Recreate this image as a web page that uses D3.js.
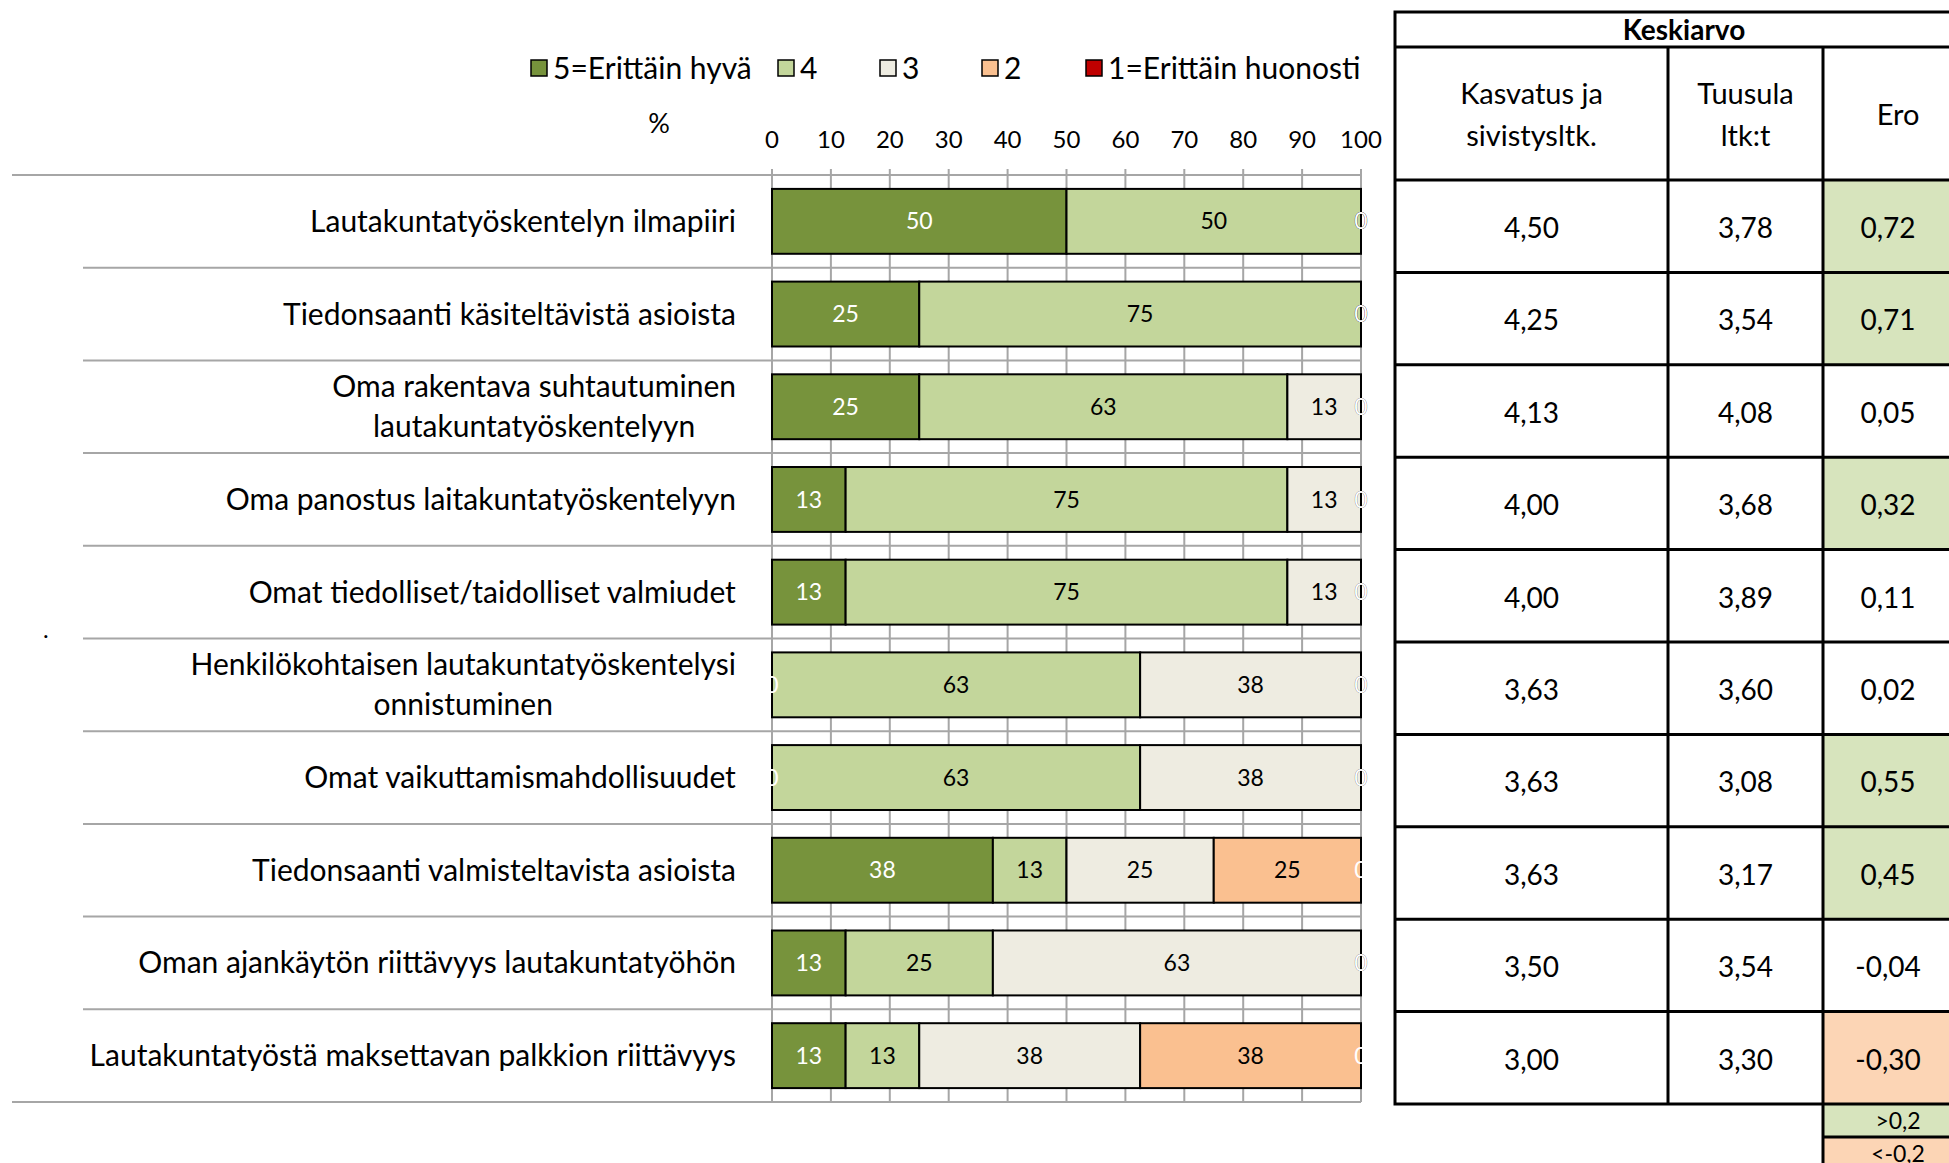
<!DOCTYPE html>
<html>
<head>
<meta charset="utf-8">
<script src="https://cdn.jsdelivr.net/npm/d3@7"></script>
<style>
body { margin: 0; background: #fff; }
svg { display: block; font-family: Lato, "Open Sans", sans-serif; }
</style>
</head>
<body>
<svg></svg>
<script>
// rows of the chart (top to bottom), "\n" = line break in the label
const categories = [
    "Lautakuntatyöskentelyn ilmapiiri",
    "Tiedonsaanti käsiteltävistä asioista",
    "Oma rakentava suhtautuminen\nlautakuntatyöskentelyyn",
    "Oma panostus laitakuntatyöskentelyyn",
    "Omat tiedolliset/taidolliset valmiudet",
    "Henkilökohtaisen lautakuntatyöskentelysi\nonnistuminen",
    "Omat vaikuttamismahdollisuudet",
    "Tiedonsaanti valmisteltavista asioista",
    "Oman ajankäytön riittävyys lautakuntatyöhön",
    "Lautakuntatyöstä maksettavan palkkion riittävyys"
];

// percentage shares per answer
const seriesNames = ["5=Erittäin hyvä", "4", "3", "2", "1=Erittäin huonosti"];
const s5 = [50, 25, 25, 12.5, 12.5, 0, 0, 37.5, 12.5, 12.5];
const s4 = [50, 75, 62.5, 75, 75, 62.5, 62.5, 12.5, 25, 12.5];
const s3 = [0, 0, 12.5, 12.5, 12.5, 37.5, 37.5, 25, 62.5, 37.5];
const s2 = [0, 0, 0, 0, 0, 0, 0, 25, 0, 37.5];
const s1 = [0, 0, 0, 0, 0, 0, 0, 0, 0, 0];
const seriesColors = ["#77933C", "#C3D69B", "#EEECE1", "#FAC090", "#C00000"];
const labelColors = ["#ffffff", "#000000", "#000000", "#000000", "#ffffff"];

// table of means
const tableTitle = "Keskiarvo";
const tableHeaders = ["Kasvatus ja\nsivistysltk.", "Tuusula\nltk:t", "Ero"];
const kasvatus = [4.50, 4.25, 4.13, 4.00, 4.00, 3.63, 3.63, 3.63, 3.50, 3.00];
const tuusula = [3.78, 3.54, 4.08, 3.68, 3.89, 3.60, 3.08, 3.17, 3.54, 3.30];
const ero = [0.72, 0.71, 0.05, 0.32, 0.11, 0.02, 0.55, 0.45, -0.04, -0.30];
const eroLegend = [">0,2", "<-0,2"];
const eroLimit = 0.2;

const width = 1949, height = 1163;
const tickFont = 24, textFont = 30;

var svg = d3.select("svg")
    .attr("width", width)
    .attr("height", height);

const x = d3.scaleLinear().domain([0, 100]).range([772, 1361]);
const y = d3.scaleBand().domain(categories).range([175, 1102])
    .paddingInner(0.3).paddingOuter(0.15);

const rows = categories.map((c, i) => ({cat: c, 0: s5[i], 1: s4[i], 2: s3[i], 3: s2[i], 4: s1[i]}));
const stacked = d3.stack().keys([0, 1, 2, 3, 4])(rows);

const gridColor = "#a6a6a6";
const step = y.step();
const y0 = y.range()[0];

// horizontal row separators (also gridlines)
const grid = svg.append("g");
d3.range(categories.length + 1).forEach(i => {
    let first = i == 0 || i == categories.length;
    grid.append("line")
        .attr("x1", first ? 12 : 83)
        .attr("x2", x(100))
        .attr("y1", y0 + i * step)
        .attr("y2", y0 + i * step)
        .attr("stroke", gridColor)
        .attr("stroke-width", 2);
});

// vertical gridlines + ticks
grid.selectAll(".vgrid")
    .data(x.ticks(10))
    .enter().append("line")
    .attr("x1", d => x(d))
    .attr("x2", d => x(d))
    .attr("y1", y0 - 6)
    .attr("y2", y.range()[1])
    .attr("stroke", gridColor)
    .attr("stroke-width", 2);

svg.append("g").selectAll("text")
    .data(x.ticks(10))
    .enter().append("text")
    .attr("x", d => x(d))
    .attr("y", 140)
    .attr("dy", "0.35em")
    .attr("text-anchor", "middle")
    .attr("font-size", tickFont)
    .text(d => d);

svg.append("text")
    .attr("x", 659)
    .attr("y", 124)
    .attr("dy", "0.35em")
    .attr("text-anchor", "middle")
    .attr("font-size", 27)
    .text("%");

// bars
const bars = svg.append("g");
stacked.forEach((layer, k) => {
    bars.append("g").selectAll("rect")
        .data(layer)
        .enter().append("rect")
        .attr("x", d => x(d[0]))
        .attr("y", d => y(d.data.cat))
        .attr("width", d => x(d[1]) - x(d[0]))
        .attr("height", y.bandwidth())
        .attr("fill", seriesColors[k])
        .attr("stroke", d => d[1] > d[0] ? "#000" : "none")
        .attr("stroke-width", 2);
});

// labels, drawn in series order so later ones sit on top
stacked.forEach((layer, k) => {
    bars.append("g").selectAll("text")
        .data(layer)
        .enter().append("text")
        .attr("x", d => x((d[0] + d[1]) / 2))
        .attr("y", d => y(d.data.cat) + y.bandwidth() / 2)
        .attr("dy", "0.35em")
        .attr("text-anchor", "middle")
        .attr("font-size", tickFont - 1)
        .attr("fill", labelColors[k])
        .text(d => Math.round(d[1] - d[0]));
});

// category labels, multi-line ones centred on each other
const labelRight = 736;
categories.forEach(c => {
    let lines = c.split("\n");
    let t = svg.append("text")
        .attr("font-size", textFont)
        .attr("text-anchor", "middle");
    let cy = y(c) + y.bandwidth() / 2;
    lines.forEach((l, j) => {
        t.append("tspan")
            .attr("x", 0)
            .attr("y", cy + (j - (lines.length - 1) / 2) * 40)
            .attr("dy", "0.35em")
            .text(l);
    });
    let w = t.node().getBBox().width;
    t.selectAll("tspan").attr("x", labelRight - w / 2);
});

svg.append("text")
    .attr("x", 43).attr("y", 638)
    .attr("font-size", tickFont)
    .text(".");

// legend
const legendX = [531, 778, 880, 982, 1086];
const legend = svg.append("g");
seriesNames.forEach((n, k) => {
    legend.append("rect")
        .attr("x", legendX[k])
        .attr("y", 60)
        .attr("width", 16)
        .attr("height", 16)
        .attr("fill", seriesColors[k])
        .attr("stroke", "#000")
        .attr("stroke-width", 1.5);
    legend.append("text")
        .attr("x", legendX[k] + 22)
        .attr("y", 68)
        .attr("dy", "0.35em")
        .attr("font-size", textFont)
        .text(n);
});

// table
const colX = [1395, 1668, 1823, 1973];
const ty = d3.scaleBand().domain(categories).range([180, 1104]);
const table = svg.append("g");
const fmt = v => d3.format(".2f")(v).replace(".", ",").replace("−", "-");
const eroFill = v => v > eroLimit ? "#D7E4BD" : (v < -eroLimit ? "#FCD5B5" : "#ffffff");
const border = 3;

// Ero cell fills first
table.selectAll(".ero")
    .data(ero)
    .enter().append("rect")
    .attr("x", colX[2])
    .attr("y", (d, i) => ty(categories[i]))
    .attr("width", colX[3] - colX[2])
    .attr("height", ty.bandwidth())
    .attr("fill", d => eroFill(d));

// conditional colour key under the table
eroLegend.forEach((t, i) => {
    let top = 1104 + i * 33;
    table.append("rect")
        .attr("x", colX[2]).attr("y", top)
        .attr("width", colX[3] - colX[2]).attr("height", 33)
        .attr("fill", i == 0 ? eroFill(1) : eroFill(-1));
    table.append("text")
        .attr("x", (colX[2] + colX[3]) / 2)
        .attr("y", top + 17)
        .attr("dy", "0.35em")
        .attr("text-anchor", "middle")
        .attr("font-size", 23)
        .text(t);
});
table.append("line")
    .attr("x1", colX[2]).attr("x2", colX[3])
    .attr("y1", 1137).attr("y2", 1137)
    .attr("stroke", "#000").attr("stroke-width", border);
table.append("line")
    .attr("x1", colX[2]).attr("x2", colX[2])
    .attr("y1", 1104).attr("y2", height)
    .attr("stroke", "#000").attr("stroke-width", border);

// header
table.append("rect")
    .attr("x", colX[0]).attr("y", 12)
    .attr("width", colX[3] - colX[0]).attr("height", 1104 - 12)
    .attr("fill", "none").attr("stroke", "#000").attr("stroke-width", border);
table.append("line")
    .attr("x1", colX[0]).attr("x2", colX[3])
    .attr("y1", 47).attr("y2", 47)
    .attr("stroke", "#000").attr("stroke-width", border);
table.append("text")
    .attr("x", (colX[0] + colX[3]) / 2)
    .attr("y", 30)
    .attr("dy", "0.35em")
    .attr("text-anchor", "middle")
    .attr("font-size", 28)
    .attr("font-weight", "bold")
    .text(tableTitle);

tableHeaders.forEach((h, c) => {
    let lines = h.split("\n");
    let t = table.append("text")
        .attr("text-anchor", "middle")
        .attr("font-size", 29);
    lines.forEach((l, j) => {
        t.append("tspan")
            .attr("x", (colX[c] + colX[c + 1]) / 2)
            .attr("y", 115 + (j - (lines.length - 1) / 2) * 42)
            .attr("dy", "0.35em")
            .text(l);
    });
});

// column lines
[1, 2].forEach(c => {
    table.append("line")
        .attr("x1", colX[c]).attr("x2", colX[c])
        .attr("y1", 47).attr("y2", 1104)
        .attr("stroke", "#000").attr("stroke-width", border);
});
// row lines
d3.range(categories.length).forEach(i => {
    table.append("line")
        .attr("x1", colX[0]).attr("x2", colX[3])
        .attr("y1", ty(categories[i])).attr("y2", ty(categories[i]))
        .attr("stroke", "#000").attr("stroke-width", border);
});

[kasvatus, tuusula, ero].forEach((vals, c) => {
    table.append("g").selectAll("text")
        .data(vals)
        .enter().append("text")
        .attr("x", (colX[c] + colX[c + 1]) / 2 + (c == 2 ? -10 : 0))
        .attr("y", (d, i) => ty(categories[i]) + ty.bandwidth() / 2 + 2)
        .attr("dy", "0.35em")
        .attr("text-anchor", "middle")
        .attr("font-size", 28)
        .text(d => fmt(d));
});
</script>
</body>
</html>
